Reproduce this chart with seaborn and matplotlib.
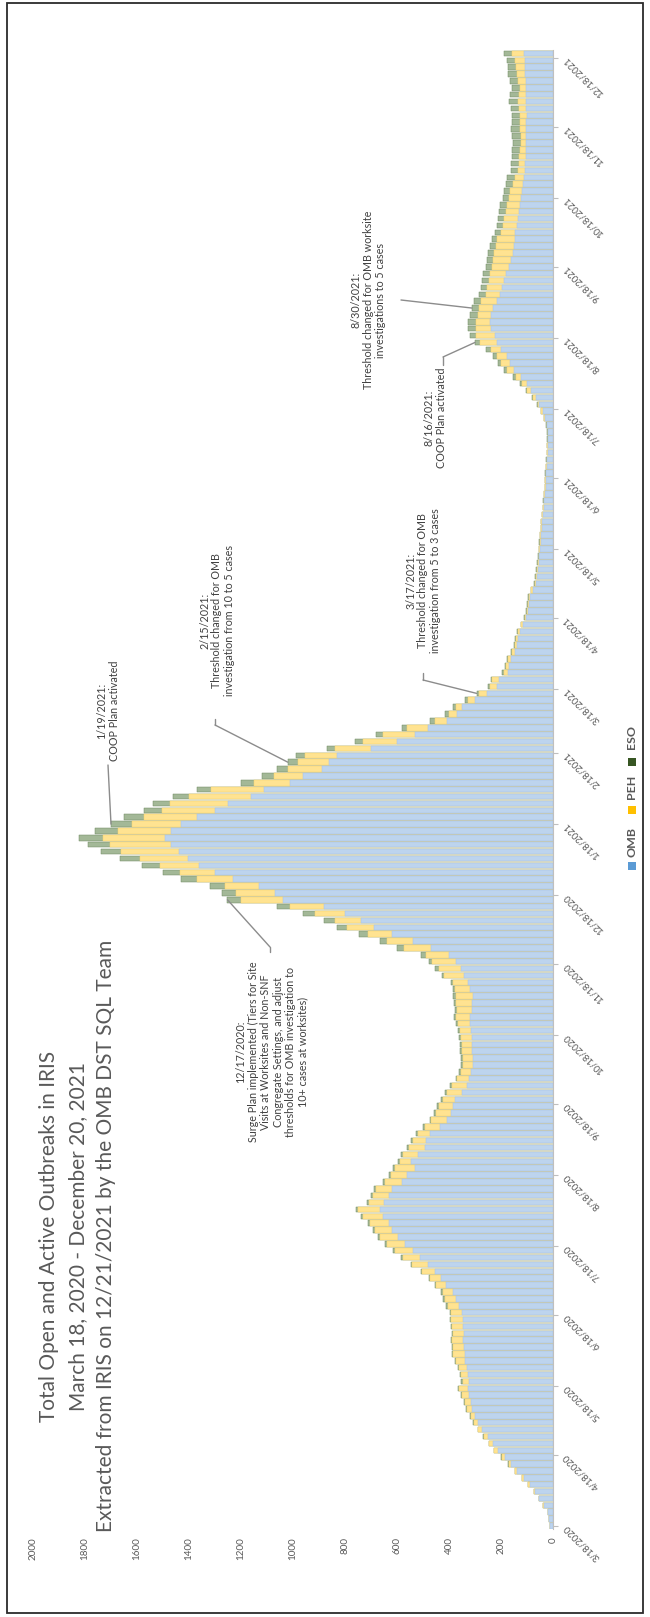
import matplotlib
matplotlib.use("Agg")
import matplotlib.pyplot as plt
from matplotlib import font_manager
from matplotlib.patches import Rectangle, ConnectionPatch
import numpy as np
import pandas as pd
import seaborn as sns

# ---------------------------------------------------------------- data
START_DATE = "2020-03-18"
STEP_DAYS = 3

OMB = [10, 15, 19, 36, 52, 70, 90, 112, 138, 160,
       186, 212, 232, 250, 272, 290, 300, 310, 316, 322,
       326, 324, 326, 330, 338, 340, 342, 345, 344, 346,
       346, 350, 360, 372, 385, 410, 432, 455, 482, 510,
       540, 568, 595, 618, 632, 655, 665, 650, 632, 618,
       582, 560, 532, 548, 520, 492, 488, 475, 435, 408,
       392, 383, 378, 350, 330, 324, 314, 308, 306, 312,
       312, 313, 316, 318, 318, 313, 310, 306, 318, 326,
       342, 355, 372, 400, 470, 540, 620, 690, 740, 800,
       880, 1040, 1070, 1130, 1230, 1300, 1360, 1405, 1440, 1470,
       1492, 1470, 1430, 1370, 1300, 1250, 1160, 1110, 1010, 960,
       890, 860, 830, 700, 600, 530, 480, 409, 370, 350,
       300, 255, 215, 208, 175, 168, 160, 148, 138, 133,
       128, 115, 103, 96, 92, 88, 78, 66, 62, 58,
       55, 52, 50, 48, 46, 44, 42, 39, 36, 34,
       31, 28, 28, 26, 24, 23, 21, 20, 19, 19,
       22, 29, 40, 52, 66, 84, 100, 122, 150, 165,
       178, 200, 215, 225, 238, 242, 238, 229, 215, 205,
       195, 188, 180, 170, 162, 153, 150, 148, 145, 140,
       133, 130, 128, 122, 118, 114, 112, 108, 106, 105,
       104, 102, 102, 104, 102, 101, 102, 104, 103, 102,
       104, 106, 107, 108, 110]

PEH = [0, 0, 1, 2, 3, 4, 5, 7, 9, 10,
       12, 14, 14, 15, 15, 15, 17, 21, 22, 29,
       34, 24, 28, 31, 34, 45, 41, 42, 41, 43,
       45, 43, 45, 45, 39, 39, 40, 47, 60, 68,
       68, 70, 70, 68, 72, 77, 85, 57, 60, 62,
       65, 64, 75, 42, 56, 63, 49, 45, 58, 60,
       59, 57, 47, 58, 58, 44, 39, 37, 39, 39,
       37, 39, 42, 48, 54, 56, 62, 69, 59, 57,
       76, 85, 92, 90, 105, 97, 93, 102, 100, 115,
       132, 160, 150, 132, 138, 135, 150, 185, 220, 235,
       240, 205, 190, 205, 205, 225, 240, 205, 140, 115,
       130, 122, 125, 140, 132, 125, 80, 45, 30, 22,
       26, 29, 27, 25, 14, 11, 13, 9, 8, 8,
       8, 7, 6, 5, 5, 5, 5, 4, 4, 4,
       3, 3, 3, 3, 3, 3, 3, 3, 3, 2,
       2, 2, 2, 2, 2, 2, 2, 2, 2, 2,
       3, 4, 6, 7, 12, 15, 21, 22, 27, 34,
       36, 40, 65, 71, 60, 54, 52, 54, 61, 52,
       57, 59, 64, 65, 70, 74, 70, 66, 55, 52,
       54, 52, 50, 47, 46, 39, 36, 26, 25, 24,
       22, 20, 23, 24, 25, 26, 28, 31, 29, 25,
       30, 34, 36, 38, 46]

ESO = [0, 0, 0, 0, 0, 1, 1, 1, 1, 2,
       2, 2, 2, 3, 3, 3, 3, 4, 4, 4,
       4, 4, 4, 4, 5, 5, 5, 5, 5, 5,
       5, 5, 5, 5, 6, 6, 6, 6, 6, 7,
       7, 7, 7, 8, 8, 8, 8, 8, 8, 8,
       8, 8, 8, 8, 8, 8, 8, 8, 7, 7,
       7, 7, 7, 7, 7, 7, 7, 7, 7, 7,
       7, 8, 8, 8, 8, 8, 8, 8, 9, 9,
       10, 12, 14, 18, 25, 28, 32, 38, 40, 45,
       48, 52, 55, 58, 62, 65, 70, 75, 80, 85,
       90, 85, 80, 75, 70, 65, 60, 55, 50, 45,
       40, 38, 35, 30, 28, 25, 22, 18, 15, 13,
       12, 10, 8, 7, 6, 6, 5, 5, 4, 4,
       4, 3, 3, 3, 3, 2, 2, 2, 2, 2,
       2, 2, 2, 1, 1, 1, 1, 1, 1, 1,
       1, 1, 1, 1, 1, 1, 1, 1, 1, 1,
       1, 1, 2, 3, 4, 5, 7, 9, 11, 13,
       15, 18, 20, 24, 28, 30, 30, 29, 28, 27,
       26, 25, 24, 23, 22, 22, 22, 22, 22, 23,
       23, 24, 25, 25, 26, 27, 28, 28, 29, 30,
       30, 31, 31, 32, 32, 32, 32, 33, 33, 32,
       32, 32, 32, 32, 34]

SERIES = ["OMB", "PEH", "ESO"]
DATE_TICK_LABELS = ["3/18/2020", "4/18/2020", "5/18/2020", "6/18/2020",
                    "7/18/2020", "8/18/2020", "9/18/2020", "10/18/2020",
                    "11/18/2020", "12/18/2020", "1/18/2021", "2/18/2021",
                    "3/18/2021", "4/18/2021", "5/18/2021", "6/18/2021",
                    "7/18/2021", "8/18/2021", "9/18/2021", "10/18/2021",
                    "11/18/2021", "12/18/2021"]
VALUE_TICKS = [0, 200, 400, 600, 800, 1000, 1200, 1400, 1600, 1800, 2000]

TITLE_LINES = ["Total Open and Active Outbreaks in IRIS",
               "March 18, 2020 - December 20, 2021",
               "Extracted from IRIS on 12/21/2021 by the OMB DST SQL Team"]

EVENTS = [
    ("8/30/2021", "8/30/2021:\nThreshold changed for OMB worksite\ninvestigations to 5 cases"),
    ("8/16/2021", "8/16/2021:\nCOOP Plan activated"),
    ("3/17/2021", "3/17/2021:\nThreshold changed for OMB\ninvestigation from 5 to 3 cases"),
    ("2/15/2021", "2/15/2021:\nThreshold changed for OMB\ninvestigation from 10 to 5 cases"),
    ("1/19/2021", "1/19/2021:\nCOOP Plan activated"),
    ("12/17/2020", "12/17/2020:\nSurge Plan implemented (Tiers for Site\nVisits at Worksites and Non-SNF\n"
                   "Congregate Settings, and adjust\nthresholds for OMB investigation to\n10+ cases at worksites)"),
]

# ---------------------------------------------------------------- style
BAR_COLORS = {"OMB": "#BDD4EE", "PEH": "#FFE391", "ESO": "#A3B897"}
BAR_EDGES = {"OMB": "#A6C2E6", "PEH": "#F7D46A", "ESO": "#6F8A62"}
KEY_COLORS = {"OMB": "#5B9BD5", "PEH": "#FFC000", "ESO": "#375623"}
TEXT_GREY = "#595959"

sns.set_theme(style="white")
installed = {f.name for f in font_manager.fontManager.ttflist}
FONT = next(f for f in ["Liberation Sans Narrow", "Lato", "DejaVu Sans"] if f in installed)
plt.rcParams["font.family"] = [FONT, "DejaVu Sans"]

W, H = 650, 1617
fig = plt.figure(figsize=(W / 100, H / 100), dpi=100)
fig.patch.set_facecolor("white")
renderer = fig.canvas.get_renderer()


def fx(px):
    return px / W


def fy(py):
    return 1 - py / H


def fitted_size(sample, length_px, **kw):
    """Font size at which `sample` spans `length_px` pixels."""
    probe = fig.text(0, 0, sample, fontsize=10, **kw)
    width = probe.get_window_extent(renderer).width
    probe.remove()
    return 10 * length_px / width


TITLE_SIZE = fitted_size(TITLE_LINES[2], 590)
NOTE_SIZE = fitted_size("Surge Plan implemented (Tiers for Site", 181)
VALUE_TICK_SIZE = fitted_size("1400", 23)
DATE_TICK_SIZE = fitted_size("3/18/2020", 47)
KEY_SIZE = fitted_size("OMB", 30, fontweight="bold")

# plot area in pixels: value axis runs right-to-left, dates bottom-to-top
AX_L, AX_R, AX_T, AX_B = 33, 553, 50, 1529.4
ax = fig.add_axes([fx(AX_L), fy(AX_B), (AX_R - AX_L) / W, (AX_B - AX_T) / H])

df = pd.DataFrame({"day": np.arange(len(OMB)) * STEP_DAYS,
                   "OMB": OMB, "PEH": PEH, "ESO": ESO})
df["OMB+PEH"] = df["OMB"] + df["PEH"]
df["Total"] = df["OMB+PEH"] + df["ESO"]

# stacked bars: draw cumulative totals back to front
for col, key in [("Total", "ESO"), ("OMB+PEH", "PEH"), ("OMB", "OMB")]:
    sns.barplot(data=df, x=col, y="day", orient="y", native_scale=True,
                color=BAR_COLORS[key], saturation=1, width=0.8, errorbar=None,
                edgecolor=BAR_EDGES[key], linewidth=0.35, ax=ax)

ax.set_xlim(2000, 0)
ax.set_ylim(-1.5, 643.5)
ax.set_xlabel("")
ax.set_ylabel("")
for side in ["top", "left", "bottom"]:
    ax.spines[side].set_visible(False)
ax.spines["right"].set_color("#BFBFBF")
ax.spines["right"].set_linewidth(0.8)
ax.grid(False)

# value axis labels along the bottom
ax.set_xticks(VALUE_TICKS)
ax.set_xticklabels([str(v) for v in VALUE_TICKS], rotation=90,
                   fontsize=VALUE_TICK_SIZE, color=TEXT_GREY)
ax.tick_params(axis="x", length=0, pad=5.5)

# date axis on the right
start = pd.Timestamp(START_DATE)
tick_days = [(pd.to_datetime(s, format="%m/%d/%Y") - start).days for s in DATE_TICK_LABELS]
ax.yaxis.tick_right()
ax.set_yticks(tick_days)
ax.set_yticklabels(DATE_TICK_LABELS, rotation=135, rotation_mode="anchor",
                   ha="right", va="center", fontsize=DATE_TICK_SIZE, color=TEXT_GREY)
ax.tick_params(axis="y", direction="out", length=3.5, width=0.8,
               color="#BFBFBF", pad=5)

# title block
for line, xc in zip(TITLE_LINES, [49, 78, 106]):
    fig.text(fx(xc), fy(1236), line, rotation=90, ha="center", va="center",
             fontsize=TITLE_SIZE, color=TEXT_GREY)

# event notes: (text centre px, leader-line elbow points px)
NOTE_LAYOUT = {
    "8/30/2021": ((368, 300), [(401, 300)]),
    "8/16/2021": ((435, 418), [(443, 365), (443, 357)]),
    "3/17/2021": ((423, 581), [(423, 673), (423, 680)]),
    "2/15/2021": ((217, 621), [(215, 719), (215, 725)]),
    "1/19/2021": ((108, 711), [(108, 765)]),
    "12/17/2020": ((272, 1052), [(270, 952), (270, 947)]),
}
LINE_GREY = "#8C8C8C"
for date_str, note in EVENTS:
    (cx, cy), elbow = NOTE_LAYOUT[date_str]
    fig.text(fx(cx), fy(cy), note, rotation=90, ha="center", va="center",
             multialignment="center", fontsize=NOTE_SIZE, color="#404040",
             linespacing=1.15)
    d = (pd.to_datetime(date_str, format="%m/%d/%Y") - start).days
    row = df.iloc[int(round(d / STEP_DAYS))]
    for (x0, y0), (x1, y1) in zip(elbow[:-1], elbow[1:]):
        fig.add_artist(plt.Line2D([fx(x0), fx(x1)], [fy(y0), fy(y1)],
                                  transform=fig.transFigure, color=LINE_GREY, lw=1.0))
    ex, ey = elbow[-1]
    fig.add_artist(ConnectionPatch(xyA=(fx(ex), fy(ey)), coordsA=fig.transFigure,
                                   xyB=(row["Total"], row["day"]), coordsB=ax.transData,
                                   color=LINE_GREY, lw=1.0))

# key (rotated with the chart)
KEY_POS = {"OMB": (866, 842), "PEH": (810, 787), "ESO": (762, 737)}
for name in SERIES:
    sq_y, tx_y = KEY_POS[name]
    fig.add_artist(Rectangle((fx(628), fy(sq_y + 4)), 8 / W, 8 / H,
                             transform=fig.transFigure, facecolor=KEY_COLORS[name],
                             edgecolor="none"))
    fig.text(fx(632), fy(tx_y), name, rotation=90, ha="center", va="center",
             fontsize=KEY_SIZE, fontweight="bold", color=TEXT_GREY)

# outer frame
fig.add_artist(Rectangle((fx(7), fy(1613)), (643 - 7) / W, (1613 - 3) / H,
                         transform=fig.transFigure, fill=False,
                         edgecolor="#2B2B2B", lw=1.3))

fig.savefig("out.png", dpi=100, facecolor="white")
